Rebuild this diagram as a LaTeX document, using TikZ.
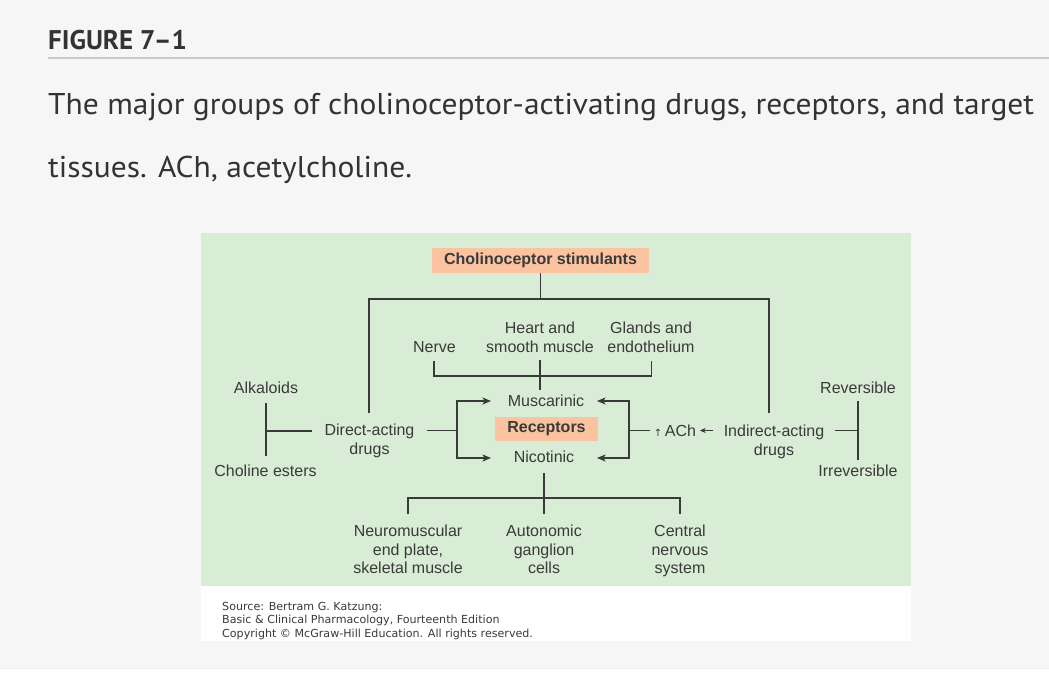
\documentclass[tikz,border=0pt]{standalone}
\usepackage{fontspec}
\setmainfont{PT Sans}
\newfontfamily\diag{Liberation Sans}
\newfontfamily\src{DejaVu Sans}
\usetikzlibrary{arrows.meta}
\definecolor{pagebg}{HTML}{F6F6F6}
\definecolor{panel}{HTML}{D9ECD5}
\definecolor{salmon}{HTML}{FBC39F}
\definecolor{ink}{HTML}{3A3A3A}
\definecolor{capink}{HTML}{333333}
\definecolor{rulec}{HTML}{C9C9C9}
\definecolor{faint}{HTML}{EBEBEB}
\begin{document}
\begin{tikzpicture}[x=1pt,y=-1pt,
  lab/.style={font=\diag\fontsize{16}{19}\selectfont, text=ink, inner sep=0pt, align=center},
  lab3/.style={lab, font=\diag\fontsize{16}{18.5}\selectfont},
  hl/.style={lab, fill=salmon, font=\diag\bfseries\fontsize{16}{19}\selectfont},
  wire/.style={draw=ink, line width=1.3pt},
  arr/.style={wire, -{Stealth[length=8.5pt,width=7pt,inset=2pt]}},
  sarr/.style={wire, line width=1.1pt, -{Stealth[length=5.5pt,width=5pt,inset=1.5pt]}},
  captxt/.style={anchor=base west, inner sep=0pt, text=capink},
]
\useasboundingbox (0,0) rectangle (1049,700);
\fill[white] (0,0) rectangle (1049,700);
\fill[pagebg] (0,0) rectangle (1049,668);
\draw[faint, line width=1pt] (0,668.5) -- (1049,668.5);

% heading and caption
\node[captxt, font=\bfseries\fontsize{27}{30}\selectfont] (fig) at (48,49.3) {FIGURE 7–1};
\draw[rulec, line width=2pt] (48,57.7) -- (1049,57.7);
\node[captxt, font=\fontsize{30}{34}\selectfont] (cap1) at (48,115) {\scalebox{1.05}[1]{The major groups of cholinoceptor-activating drugs, receptors, and target}};
\node[captxt, font=\fontsize{30}{34}\selectfont] (cap2) at (48,178) {\scalebox{1.05}[1]{tissues. ACh, acetylcholine.}};

% panel
\fill[panel] (201,233) rectangle (911,586);
\fill[white] (201,586) rectangle (911,641);

% nodes
\node[hl, minimum width=217, minimum height=25] (stim) at (540.5,260.5) {Cholinoceptor stimulants};
\node[lab] (nerve) at (434.5,347) {Nerve};
\node[lab] (heart) at (540,337.5) {Heart and\\smooth muscle};
\node[lab] (glands) at (651,337.5) {Glands and\\endothelium};
\node[lab] (musc) at (546,401) {Muscarinic};
\node[hl, minimum width=103, minimum height=24] (rec) at (546.5,428.5) {Receptors};
\node[lab] (nico) at (544,457) {Nicotinic};
\node[lab] (direct) at (369.5,440.5) {Direct-acting\\drugs};
\node[lab] (indirect) at (774,441.5) {Indirect-acting\\drugs};
\node[lab] (alk) at (266,388) {Alkaloids};
\node[lab] (chol) at (265.5,471) {Choline esters};
\node[lab] (rev) at (858,388) {Reversible};
\node[lab] (irr) at (858,471) {Irreversible};
\node[lab] (ach) at (675,430.5) {{\src\fontsize{10}{10}\selectfont ↑}\,ACh};
\node[lab3] (nmj) at (408,549.5) {Neuromuscular\\end plate,\\skeletal muscle};
\node[lab3] (auto) at (544,549.5) {Autonomic\\ganglion\\cells};
\node[lab3] (cns) at (680,551) {Central\\nervous\\system};

% junction coordinates
\coordinate (jT) at (540.5,299);
\coordinate (dTop) at (369,299);
\coordinate (dEnd) at (369,413);
\coordinate (iTop) at (769,299);
\coordinate (iEnd) at (769,413);
\coordinate (tn) at (434,361);
\coordinate (tg) at (651.5,361);
\coordinate (ty) at (0,376);
\coordinate (th) at (540,360);
\coordinate (thEnd) at (540,390);
\coordinate (dR) at (427,430.5);
\coordinate (lb) at (457,430.5);
\coordinate (lbT) at (457,401);
\coordinate (lbB) at (457,458);
\coordinate (ltT) at (491,401);
\coordinate (ltB) at (491,458);
\coordinate (achL) at (650,430.5);
\coordinate (rb) at (629,430.5);
\coordinate (rbT) at (629,401);
\coordinate (rbB) at (629,458);
\coordinate (rtT) at (597,401);
\coordinate (rtB) at (597,458);
\coordinate (aS) at (713,430.5);
\coordinate (aE) at (700,430.5);
\coordinate (iR) at (835,430.5);
\coordinate (rvM) at (858,430.5);
\coordinate (rvT) at (858,401);
\coordinate (rvB) at (858,460);
\coordinate (alT) at (266,403);
\coordinate (alB) at (266,456);
\coordinate (alM) at (266,431);
\coordinate (alR) at (312,431);
\coordinate (bT) at (544,473);
\coordinate (bB) at (544,514);
\coordinate (bLt) at (408,514);
\coordinate (bRt) at (680,514);
\coordinate (by) at (0,498);

% connectors
\draw[wire] (stim.south) -- (jT);
\draw[wire] (dEnd) -- (dTop) -- (iTop) -- (iEnd);
\draw[wire] (tn) |- (tg |- ty) -- (tg);
\draw[wire] (th) -- (thEnd);
\draw[wire] (dR) -- (lb);
\draw[arr] (lb) -- (lbT) -- (ltT);
\draw[arr] (lb) -- (lbB) -- (ltB);
\draw[wire] (achL) -- (rb);
\draw[arr] (rb) -- (rbT) -- (rtT);
\draw[arr] (rb) -- (rbB) -- (rtB);
\draw[sarr] (aS) -- (aE);
\draw[wire] (iR) -- (rvM);
\draw[wire] (rvT) -- (rvB);
\draw[wire] (alT) -- (alB);
\draw[wire] (alM) -- (alR);
\draw[wire] (bT) -- (bB);
\draw[wire] (bLt) -- (bLt |- by) -- (bRt |- by) -- (bRt);

% source
\node[anchor=north west, align=left, inner sep=0pt, text=ink,
      font=\src\fontsize{11.1}{13.5}\selectfont] (srcnote) at (222,602)
  {Source: Bertram G. Katzung:\\Basic \& Clinical Pharmacology, Fourteenth Edition\\Copyright © McGraw-Hill Education. All rights reserved.};
\end{tikzpicture}
\end{document}
